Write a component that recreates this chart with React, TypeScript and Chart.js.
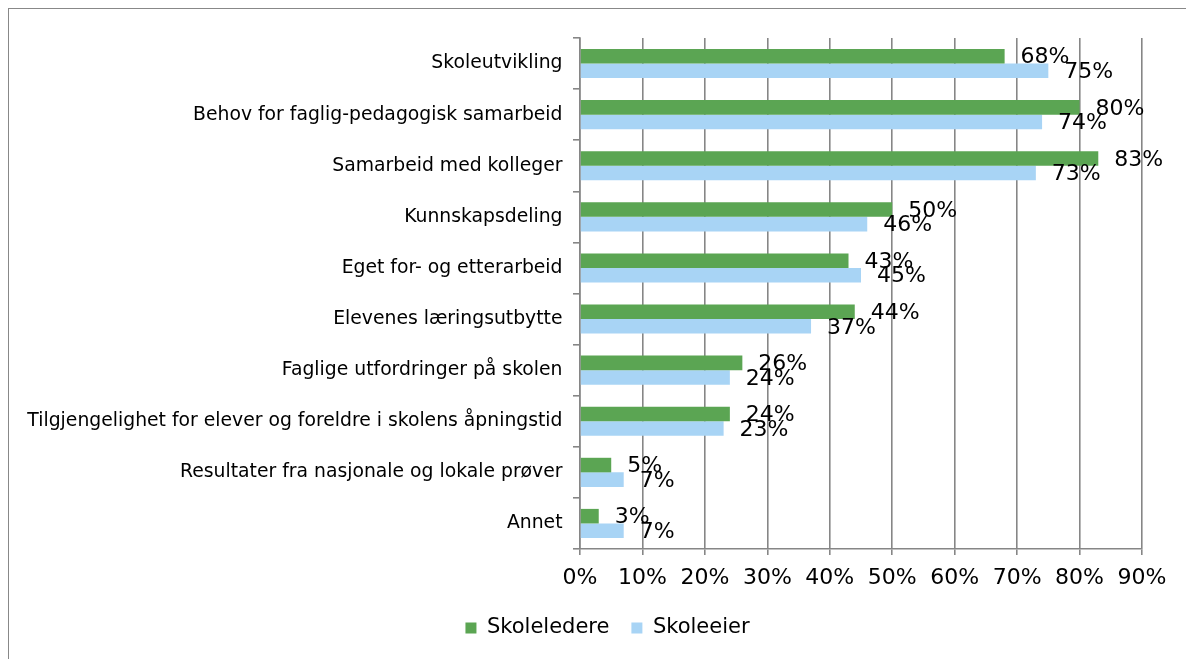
import React, { useEffect, useRef } from "react";
import { Chart, registerables } from "chart.js";

Chart.register(...registerables);

const categories = [
  "Skoleutvikling",
  "Behov for faglig-pedagogisk samarbeid",
  "Samarbeid med kolleger",
  "Kunnskapsdeling",
  "Eget for- og etterarbeid",
  "Elevenes læringsutbytte",
  "Faglige utfordringer på skolen",
  "Tilgjengelighet for elever og foreldre i skolens åpningstid",
  "Resultater fra nasjonale og lokale prøver",
  "Annet",
];
const seriesNames = ["Skoleledere", "Skoleeier"];
const skoleledere = [68, 80, 83, 50, 43, 44, 26, 24, 5, 3];
const skoleeier = [75, 74, 73, 46, 45, 37, 24, 23, 7, 7];
const xMin = 0;
const xMax = 90;
const xStep = 10;

const FONT = '"DejaVu Sans", Verdana, sans-serif';
const GREEN = "#5ba553";
const BLUE = "#a8d4f5";
const GRID = "#868686";

const valueLabels = {
  id: "valueLabels",
  afterDatasetsDraw(chart: any) {
    const ctx = chart.ctx;
    ctx.save();
    ctx.font = `22px ${FONT}`;
    ctx.fillStyle = "#000";
    ctx.textAlign = "left";
    ctx.textBaseline = "middle";
    chart.data.datasets.forEach((ds: any, i: number) => {
      const meta = chart.getDatasetMeta(i);
      meta.data.forEach((el: any, j: number) => {
        ctx.fillText(`${ds.data[j]}%`, el.x + 16, el.y + 1.5);
      });
    });
    ctx.restore();
  },
};

// centre the legend under the page like the reference
const legendShift = {
  id: "legendShift",
  afterLayout(chart: any) {
    if (chart.legend) {
      chart.legend.left = 64;
    }
  },
};

export default function App() {
  const ref = useRef<HTMLCanvasElement | null>(null);

  useEffect(() => {
    document.body.style.overflow = "hidden";
    const canvas = ref.current;
    if (!canvas) return;
    const chart = new Chart(canvas, {
      type: "bar",
      data: {
        labels: categories,
        datasets: [
          {
            label: seriesNames[0],
            data: skoleledere,
            backgroundColor: GREEN,
            borderWidth: 0,
            categoryPercentage: 0.57,
            barPercentage: 1,
          },
          {
            label: seriesNames[1],
            data: skoleeier,
            backgroundColor: BLUE,
            borderWidth: 0,
            categoryPercentage: 0.57,
            barPercentage: 1,
          },
        ],
      },
      options: {
        indexAxis: "y",
        responsive: false,
        maintainAspectRatio: false,
        animation: false,
        layout: { padding: { left: 0, right: 53, top: 29, bottom: 10.5 } },
        plugins: {
          tooltip: { enabled: false },
          legend: {
            display: true,
            position: "bottom",
            labels: {
              boxWidth: 11,
              boxHeight: 11,
              padding: 22,
              color: "#000",
              font: { family: FONT, size: 21 },
            },
          },
        },
        scales: {
          x: {
            type: "linear",
            min: xMin,
            max: xMax,
            afterFit: (scale: any) => {
              scale.height = 46.5;
            },
            ticks: {
              stepSize: xStep,
              padding: 10,
              color: "#000",
              font: { family: FONT, size: 22 },
              callback: (v: any) => `${v}%`,
            },
            grid: {
              color: GRID,
              lineWidth: 1.6,
              drawTicks: true,
              tickLength: 6,
            },
            border: { display: true, color: GRID, width: 1.6 },
          },
          y: {
            type: "category",
            afterFit: (scale: any) => {
              scale.width = 571;
            },
            ticks: {
              autoSkip: false,
              padding: 10.5,
              color: "#000",
              font: { family: FONT, size: 18.8 },
            },
            grid: {
              offset: true,
              drawOnChartArea: false,
              drawTicks: true,
              tickLength: 7,
              color: GRID,
              lineWidth: 1.6,
            },
            border: { display: true, color: GRID, width: 1.6 },
          },
        },
      },
      plugins: [valueLabels, legendShift],
    });
    return () => chart.destroy();
  }, []);

  return (
    <div
      style={{
        border: "1px solid #888",
        width: 1200,
        height: 660,
        position: "relative",
      }}
    >
      <canvas
        ref={ref}
        width={1186}
        height={650}
        style={{ display: "block", width: 1186, height: 650 }}
      />
    </div>
  );
}
